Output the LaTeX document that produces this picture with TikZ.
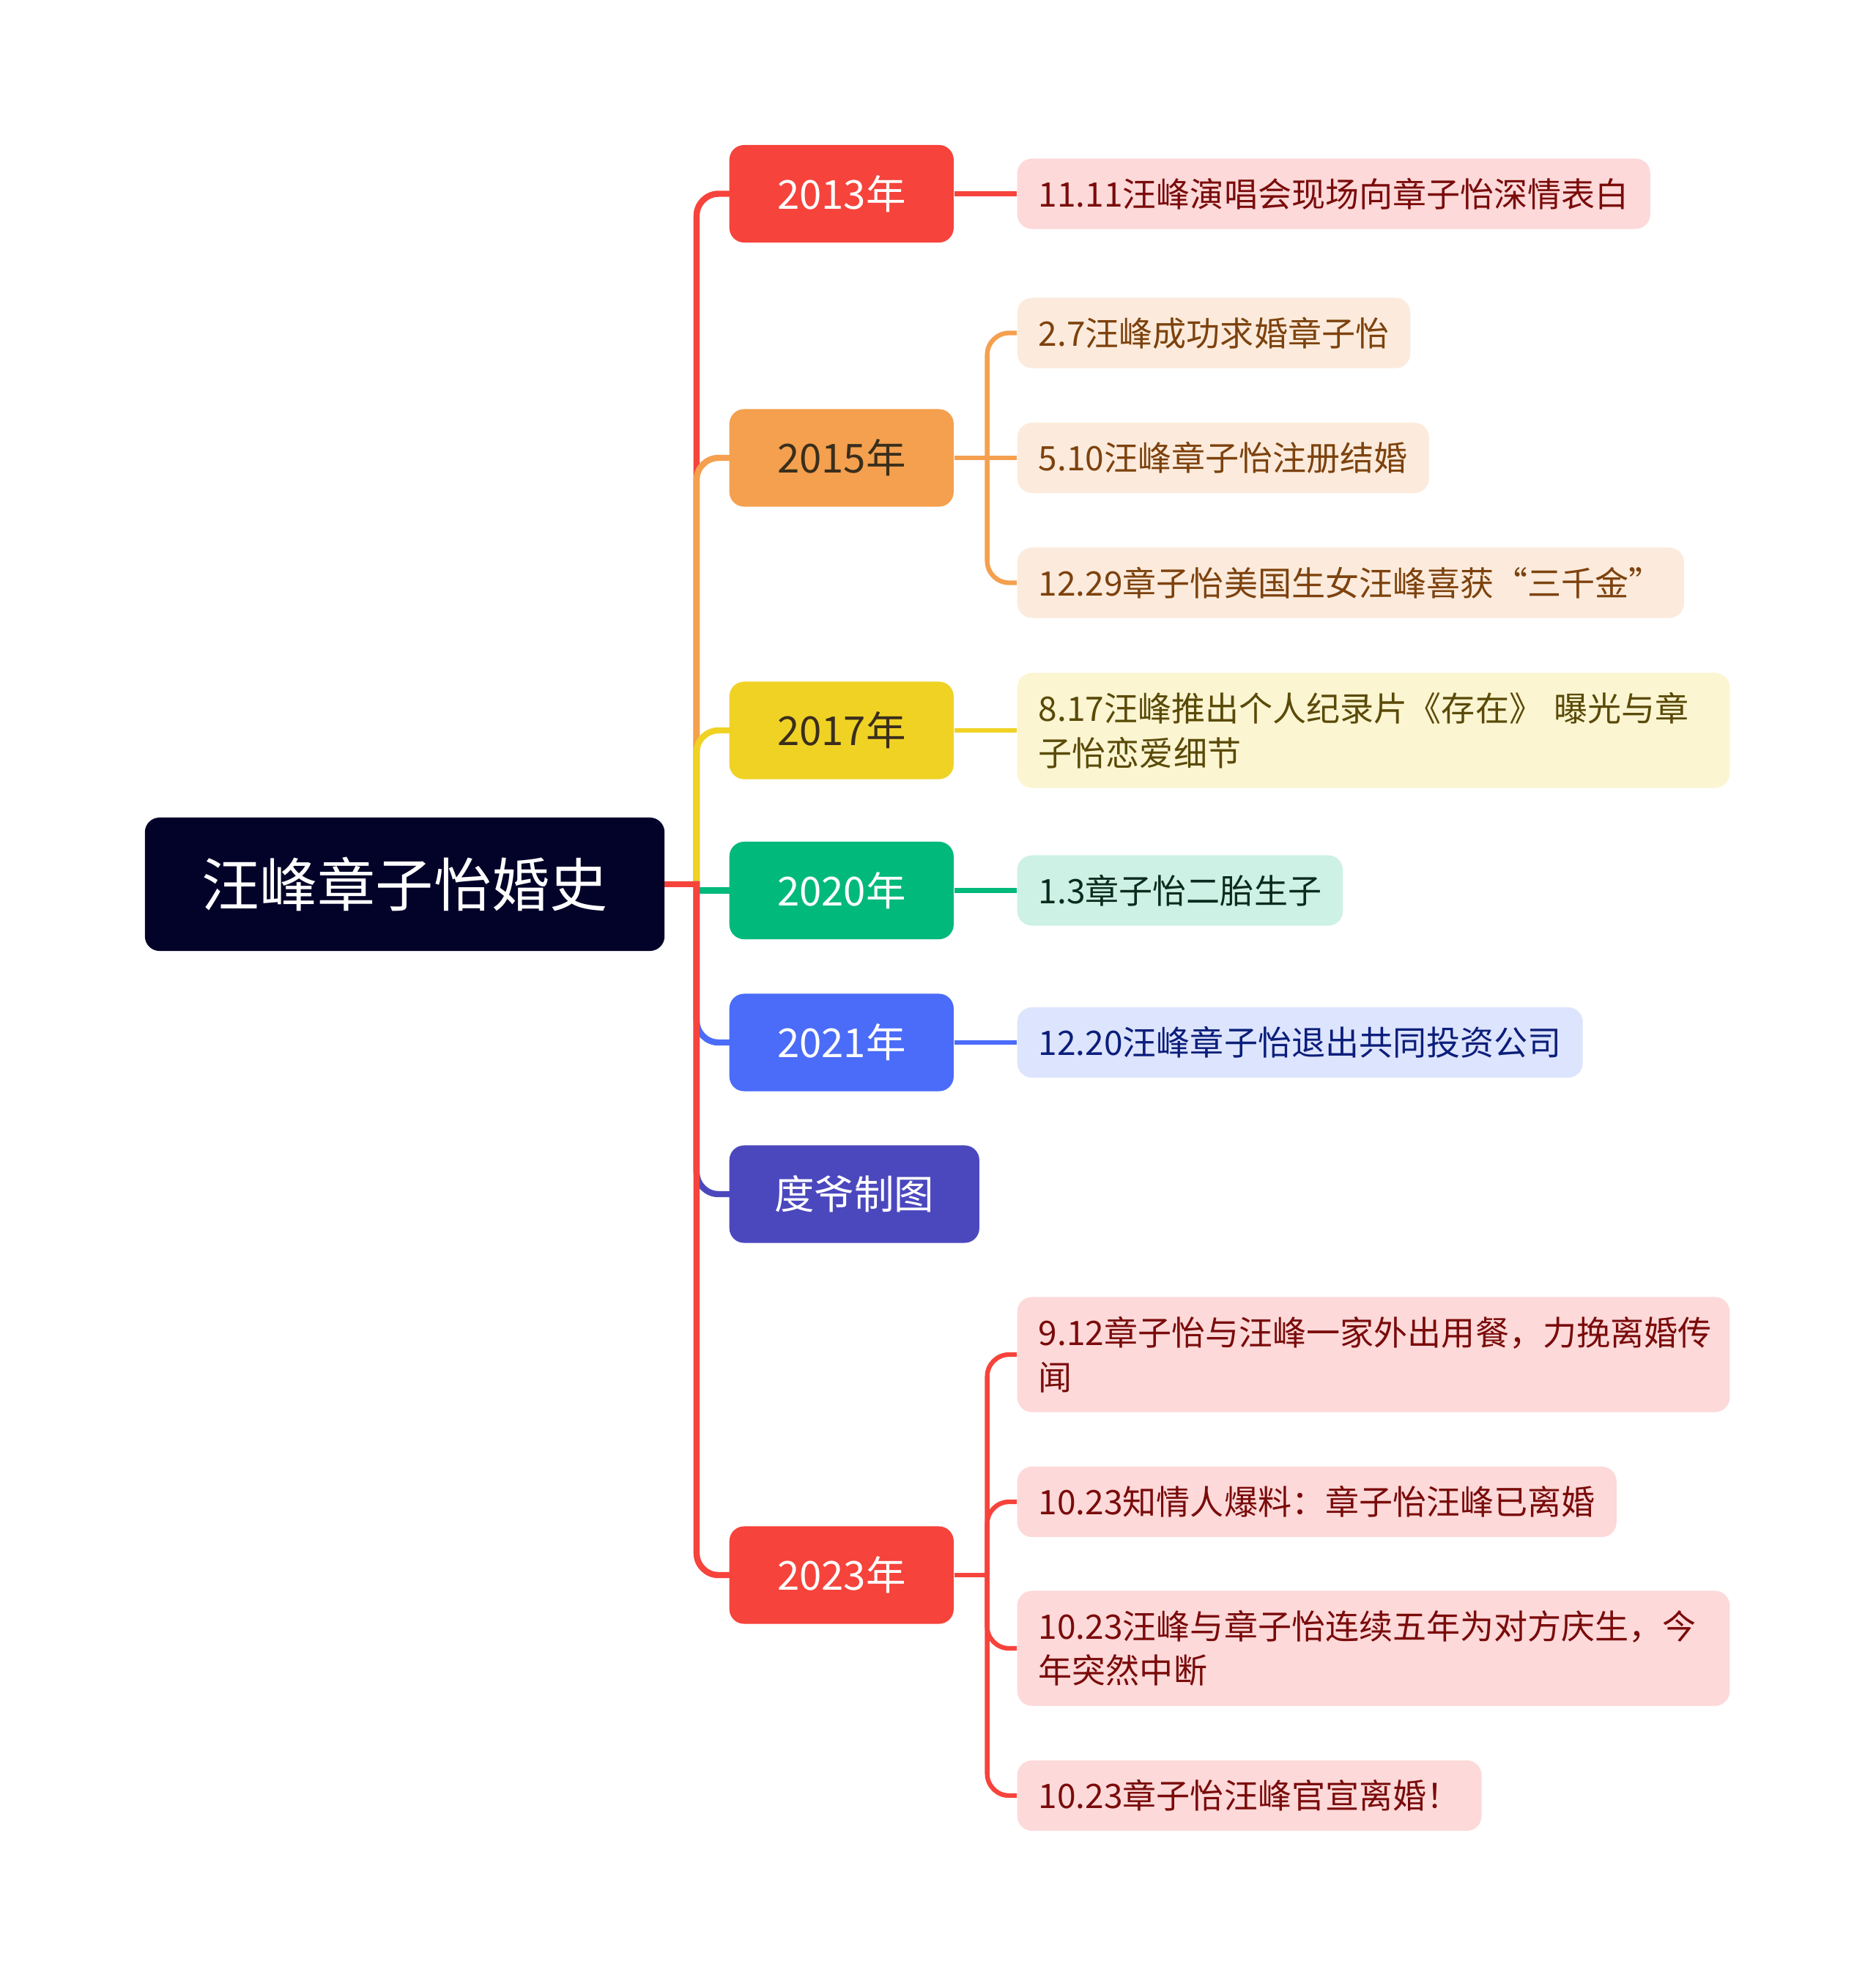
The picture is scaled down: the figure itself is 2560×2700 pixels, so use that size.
\documentclass[tikz,border=0pt]{standalone}
\usepackage{fontspec}
\setmainfont{Noto Sans CJK SC}
\usetikzlibrary{positioning,backgrounds}

\definecolor{cRoot}{HTML}{03032A}
\definecolor{cRed}{HTML}{F6433B}
\definecolor{cOrange}{HTML}{F4A04E}
\definecolor{cYellow}{HTML}{F0D225}
\definecolor{cGreen}{HTML}{00B97A}
\definecolor{cBlue}{HTML}{4A6CF8}
\definecolor{cPurple}{HTML}{4B48BE}
\definecolor{fRed}{HTML}{FDD9D9}
\definecolor{fOrange}{HTML}{FCEBDC}
\definecolor{fYellow}{HTML}{FBF5D2}
\definecolor{fGreen}{HTML}{CDF1E4}
\definecolor{fBlue}{HTML}{DDE4FD}
\definecolor{tRed}{HTML}{7A0B0B}
\definecolor{tOrange}{HTML}{7D420E}
\definecolor{tYellow}{HTML}{5A4A08}
\definecolor{tGreen}{HTML}{0B2B1E}
\definecolor{tBlue}{HTML}{0B1E7A}
\definecolor{tDark}{HTML}{3A2E1C}

\tikzset{
  anno/.style={rounded corners=0.2cm, minimum width=3.06cm, minimum height=1.33cm,
    anchor=west, font=\fontsize{15.5}{18}\selectfont},
  foglia/.style={rounded corners=0.2cm, minimum height=0.96cm, inner xsep=0.29cm,
    anchor=west, align=left, font=\fontsize{13.1}{17.2}\selectfont},
  lunga/.style={foglia, text width=9.14cm, minimum height=1.57cm},
  ramo/.style={line width=2.4pt, rounded corners=0.3cm, line cap=rect},
  rametto/.style={line width=1.8pt, rounded corners=0.3cm},
}

\begin{document}
\begin{tikzpicture}[x=0.01cm, y=-0.01cm]
  \useasboundingbox (0,0) rectangle (2560,2700);

  % Radice
  \node[fill=cRoot, text=white, rounded corners=0.2cm, minimum width=7.09cm,
    minimum height=1.82cm, font=\fontsize{22.5}{26}\selectfont] (root) at (552.5,1207) {汪峰章子怡婚史};

  % Anni
  \node[anno, fill=cRed, text=white] (a2013) at (995,264.5) {2013年};
  \node[anno, fill=cOrange, text=tDark] (a2015) at (995,625) {2015年};
  \node[anno, fill=cYellow, text=tDark] (a2017) at (995,997) {2017年};
  \node[anno, fill=cGreen, text=white] (a2020) at (995,1215.5) {2020年};
  \node[anno, fill=cBlue, text=white] (a2021) at (995,1423) {2021年};
  \node[anno, fill=cPurple, text=white, minimum width=3.41cm] (duye) at (995,1630) {度爷制图};
  \node[anno, fill=cRed, text=white] (a2023) at (995,2150) {2023年};

  % Foglie
  \node[foglia, fill=fRed, text=tRed] (f2013) at (1388,264.5) {11.11汪峰演唱会现场向章子怡深情表白};

  \node[foglia, fill=fOrange, text=tOrange] (f2015a) at (1388,454.5) {2.7汪峰成功求婚章子怡};
  \node[foglia, fill=fOrange, text=tOrange] (f2015b) at (1388,625) {5.10汪峰章子怡注册结婚};
  \node[foglia, fill=fOrange, text=tOrange] (f2015c) at (1388,795.5) {12.29章子怡美国生女汪峰喜获“三千金”};

  \node[lunga, fill=fYellow, text=tYellow] (f2017) at (1388,997) {8.17汪峰推出个人纪录片《存在》 曝光与章\\子怡恋爱细节};

  \node[foglia, fill=fGreen, text=tGreen] (f2020) at (1388,1215.5) {1.3章子怡二胎生子};

  \node[foglia, fill=fBlue, text=tBlue] (f2021) at (1388,1423) {12.20汪峰章子怡退出共同投资公司};

  \node[lunga, fill=fRed, text=tRed] (f2023a) at (1388,1849) {9.12章子怡与汪峰一家外出用餐，力挽离婚传\\闻};
  \node[foglia, fill=fRed, text=tRed] (f2023b) at (1388,2050) {10.23知情人爆料：章子怡汪峰已离婚};
  \node[lunga, fill=fRed, text=tRed] (f2023c) at (1388,2250) {10.23汪峰与章子怡连续五年为对方庆生，今\\年突然中断};
  \node[foglia, fill=fRed, text=tRed] (f2023d) at (1388,2451) {10.23章子怡汪峰官宣离婚！};

  % Punti di snodo
  \coordinate[right=0.43cm of root.east] (hub);
  \coordinate[right=0.45cm of a2015.east] (s2015);
  \coordinate[right=0.45cm of a2023.east] (s2023);

  % Rami
  \begin{scope}[on background layer]
    \draw[ramo, cRed] (hub) |- (a2013.west);
    \draw[ramo, cOrange] (hub) |- (a2015.west);
    \draw[ramo, cYellow] (hub) |- (a2017.west);
    \draw[ramo, cGreen] (hub |- a2020.west) -- (a2020.west);
    \draw[ramo, cBlue] (hub) |- (a2021.west);
    \draw[ramo, cPurple] (hub) |- (duye.west);
    \draw[ramo, cRed] (hub) |- (a2023.west);
    \draw[ramo, cRed] (root.east) -- (hub);

    \draw[rametto, cRed] (a2013.east) -- (f2013.west);
    \draw[rametto, cOrange] (a2015.east) -- (f2015b.west);
    \draw[rametto, cOrange] (s2015) |- (f2015a.west);
    \draw[rametto, cOrange] (s2015) |- (f2015c.west);
    \draw[rametto, cYellow] (a2017.east) -- (f2017.west);
    \draw[rametto, cGreen] (a2020.east) -- (f2020.west);
    \draw[rametto, cBlue] (a2021.east) -- (f2021.west);
    \draw[rametto, cRed] (a2023.east) -- (s2023);
    \draw[rametto, cRed] (s2023) |- (f2023a.west);
    \draw[rametto, cRed] (s2023) |- (f2023b.west);
    \draw[rametto, cRed] (s2023) |- (f2023c.west);
    \draw[rametto, cRed] (s2023) |- (f2023d.west);
  \end{scope}
\end{tikzpicture}
\end{document}
